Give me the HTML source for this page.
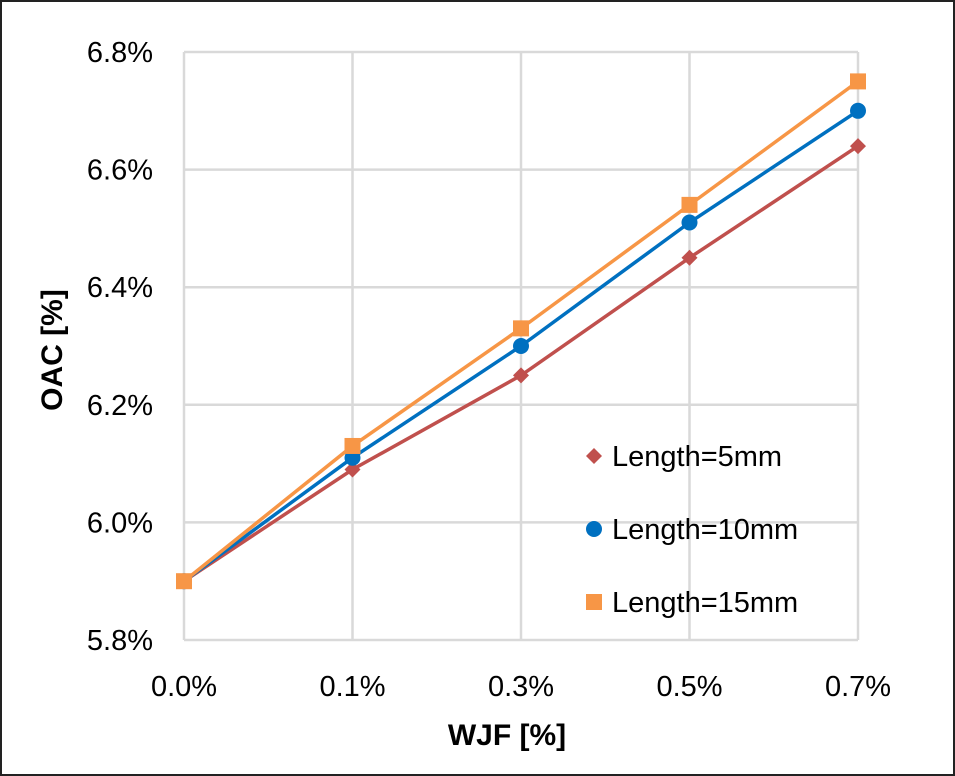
<!DOCTYPE html>
<html><head><meta charset="utf-8"><style>
html,body{margin:0;padding:0;background:#fff}
svg{display:block}
text{font-family:"Liberation Sans",Arial,sans-serif;fill:#000}
</style></head><body>
<svg id="chart" width="955" height="776" viewBox="0 0 955 776">
<rect x="1" y="1" width="953" height="774" fill="#fff" stroke="#222" stroke-width="2"/>
<g id="grid"></g>
<g id="yticks"></g>
<g id="xticks"></g>
<g id="series"></g>
<text x="507" y="745" font-size="30" font-weight="bold" text-anchor="middle">WJF [%]</text>
<text transform="translate(62,350) rotate(-90)" font-size="30" font-weight="bold" text-anchor="middle">OAC [%]</text>
<g id="legend"></g>
</svg>
<script>
const categories = ["0.0%","0.1%","0.3%","0.5%","0.7%"];
const yTicks = [5.8,6.0,6.2,6.4,6.6,6.8];
const len5 = [5.90,6.09,6.25,6.45,6.64];
const len10 = [5.90,6.11,6.30,6.51,6.70];
const len15 = [5.90,6.13,6.33,6.54,6.75];
const seriesNames = ["Length=5mm","Length=10mm","Length=15mm"];

const NS="http://www.w3.org/2000/svg";
const L=184,R=858,T=52,B=640,yMin=5.8,yMax=6.8;
const xS=i=>L+(R-L)*i/(categories.length-1);
const yS=v=>B-(v-yMin)/(yMax-yMin)*(B-T);
function mk(tag,attrs,parent){const e=document.createElementNS(NS,tag);for(const k in attrs)e.setAttribute(k,attrs[k]);parent.appendChild(e);return e;}
const grid=document.getElementById('grid'),yt=document.getElementById('yticks'),xt=document.getElementById('xticks'),sg=document.getElementById('series'),lg=document.getElementById('legend');
yTicks.forEach(v=>{
  const l=mk('line',{x1:L,x2:R,y1:yS(v),y2:yS(v),stroke:'#d9d9d9','stroke-width':2.5},grid);
  
  
  const t=mk('text',{x:153,y:yS(v)+10,'font-size':29,'text-anchor':'end'},yt);
  t.textContent=v.toFixed(1)+'%';
  
  
});
categories.forEach((c,i)=>{
  const l=mk('line',{x1:xS(i),x2:xS(i),y1:T,y2:B,stroke:'#d9d9d9','stroke-width':2.5},grid);
  
  
  const t=mk('text',{x:xS(i),y:696,'font-size':29,'text-anchor':'middle'},xt);
  t.textContent=c;
  
  
});
function marker(type,x,y,color,parent){
  let m;
  if(type==='diamond') m=mk('polygon',{points:`${x},${y-8} ${x+8},${y} ${x},${y+8} ${x-8},${y}`,fill:color},parent);
  else if(type==='circle') m=mk('circle',{cx:x,cy:y,r:8,fill:color},parent);
  else m=mk('rect',{x:x-8,y:y-8,width:16,height:16,fill:color},parent);
  return m;
}
const defs=[[len5,'#c0504d','diamond'],[len10,'#0070c0','circle'],[len15,'#f79646','square']];
defs.forEach(([vals,col,mt],si)=>{
  const g=mk('g',{},sg);
  
  
  const p=mk('polyline',{points:vals.map((v,i)=>xS(i)+','+yS(v)).join(' '),fill:'none',stroke:col,'stroke-width':3.5},g);
  
  
  vals.forEach((v,i)=>{
    const m=marker(mt,xS(i),yS(v),col,g);
    
    
  });
  const ly=456+si*73;
  const lm=marker(mt,594,ly,col,lg);
  
  
  const lt=mk('text',{x:612,y:ly+10,'font-size':29},lg);
  lt.textContent=seriesNames[si];
  
  
});
</script>
</body></html>
